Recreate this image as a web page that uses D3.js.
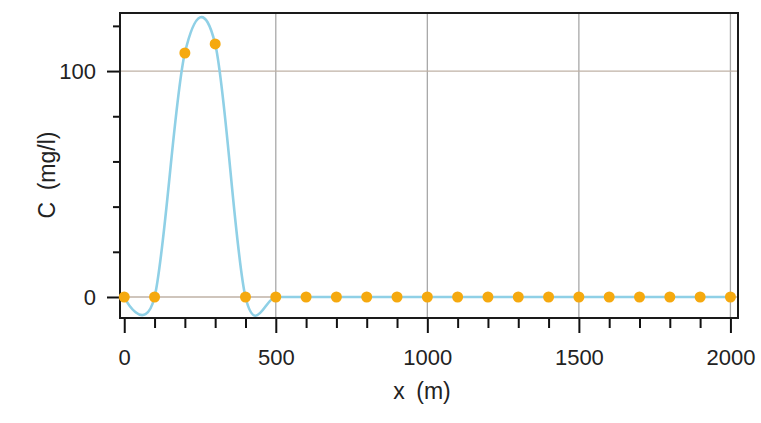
<!DOCTYPE html>
<html>
<head>
<meta charset="utf-8">
<script src="https://cdn.jsdelivr.net/npm/d3@7"></script>
<style>
  html, body { margin: 0; padding: 0; background: #fff; }
  svg { display: block; }
  text { font-family: "Liberation Sans", Arial, sans-serif; }
</style>
</head>
<body>
<svg id="chart" width="761" height="423"></svg>
<script>
// Concentration profile along the channel
const distances = [0, 100, 200, 300, 400, 500, 600, 700, 800, 900, 1000,
                   1100, 1200, 1300, 1400, 1500, 1600, 1700, 1800, 1900, 2000];
const concentrations = [0, 0, 108, 112, 0, 0, 0, 0, 0, 0, 0,
                        0, 0, 0, 0, 0, 0, 0, 0, 0, 0];
const xTickLabels = [0, 500, 1000, 1500, 2000];
const yTickLabels = [0, 100];
const xLabel = "x\u2002(m)";
const yLabel = "C\u2002(mg/l)";

const svg = d3.select("#chart");
const plot = { left: 120, top: 13, right: 738, bottom: 318 };

const x = d3.scaleLinear().domain([-14, 2025]).range([plot.left, plot.right]);
const y = d3.scaleLinear().domain([-9.3, 125.7]).range([plot.bottom, plot.top]);

svg.append("defs").append("clipPath").attr("id", "plot-clip")
  .append("rect")
  .attr("x", plot.left).attr("y", plot.top)
  .attr("width", plot.right - plot.left).attr("height", plot.bottom - plot.top);

// grid
const grid = svg.append("g");
grid.selectAll("line.vx").data(xTickLabels.filter(d => d > 0)).join("line")
  .attr("x1", d => x(d)).attr("x2", d => x(d))
  .attr("y1", plot.top).attr("y2", plot.bottom)
  .attr("stroke", "#a8a8a8").attr("stroke-width", 1.3);
grid.selectAll("line.hy").data(yTickLabels).join("line")
  .attr("x1", plot.left).attr("x2", plot.right)
  .attr("y1", d => y(d)).attr("y2", d => y(d))
  .attr("stroke", "#bfb2a6").attr("stroke-width", 1.3);

// axes
const xAxis = d3.axisBottom(x)
  .tickValues(d3.range(0, 2001, 100))
  .tickSize(8)
  .tickFormat(d => xTickLabels.includes(d) ? d : "");
const gx = svg.append("g").attr("transform", `translate(0,${plot.bottom})`).call(xAxis);
gx.select(".domain").remove();
gx.selectAll(".tick line").attr("stroke", "#111").attr("stroke-width", 2)
  .attr("y2", d => xTickLabels.includes(d) ? 15 : 10);
gx.selectAll(".tick text").attr("y", 31).attr("dy", "0.71em")
  .attr("font-size", 22).attr("fill", "#222");

const yAxis = d3.axisLeft(y)
  .tickValues(d3.range(0, 121, 20))
  .tickSize(7)
  .tickFormat(d => yTickLabels.includes(d) ? d : "");
const gy = svg.append("g").attr("transform", `translate(${plot.left},0)`).call(yAxis);
gy.select(".domain").remove();
gy.selectAll(".tick line").attr("stroke", "#111").attr("stroke-width", 2)
  .attr("x2", d => yTickLabels.includes(d) ? -13 : -7);
gy.selectAll(".tick text").attr("x", -24)
  .attr("font-size", 22).attr("fill", "#222");

// frame
svg.append("rect")
  .attr("x", plot.left).attr("y", plot.top)
  .attr("width", plot.right - plot.left).attr("height", plot.bottom - plot.top)
  .attr("fill", "none").attr("stroke", "#1a1a1a").attr("stroke-width", 2);

// series
const pts = distances.map((d, i) => ({ x: d, c: concentrations[i] }));
const line = d3.line().x(d => x(d.x)).y(d => y(d.c)).curve(d3.curveCardinal.tension(0));
svg.append("path").datum(pts)
  .attr("clip-path", "url(#plot-clip)")
  .attr("d", line)
  .attr("fill", "none").attr("stroke", "#8fd0e6").attr("stroke-width", 2.6);

svg.append("g").selectAll("circle").data(pts).join("circle")
  .attr("cx", d => x(d.x)).attr("cy", d => y(d.c)).attr("r", 5.5)
  .attr("fill", "#f5a90f");

// axis titles
svg.append("text")
  .attr("x", 422).attr("y", 399)
  .attr("text-anchor", "middle").attr("font-size", 23).attr("fill", "#222")
  .text(xLabel);
svg.append("text")
  .attr("transform", "translate(55,175) rotate(-90)")
  .attr("text-anchor", "middle").attr("font-size", 23).attr("fill", "#222")
  .text(yLabel);
</script>
</body>
</html>
